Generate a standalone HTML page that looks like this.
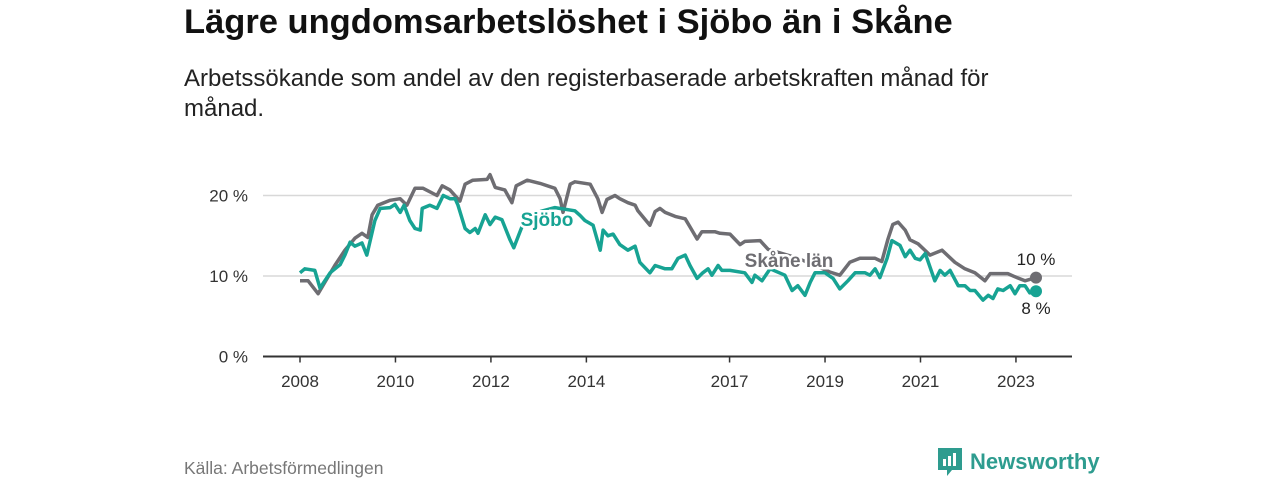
<!DOCTYPE html>
<html><head><meta charset="utf-8"><style>
body{margin:0;width:1280px;height:480px;background:#fff;font-family:"Liberation Sans","DejaVu Sans",sans-serif;overflow:hidden;position:relative}
#title{position:absolute;left:184px;top:3px;font-size:34.5px;font-weight:bold;color:#111;margin:0}
#sub{position:absolute;left:184px;top:64px;font-size:24px;color:#222;line-height:30px;width:860px}
#src{position:absolute;left:184px;top:458px;font-size:17.5px;color:#777}
#logo{position:absolute;left:938px;top:448px;display:flex;align-items:center;gap:8px;color:#2e9c8f;font-size:22px;font-weight:bold}
</style></head><body>
<h1 id="title">Lägre ungdomsarbetslöshet i Sjöbo än i Skåne</h1>
<div id="sub">Arbetssökande som andel av den registerbaserade arbetskraften månad för månad.</div>
<svg id="chart" width="1280" height="480" style="position:absolute;left:0;top:0"></svg>
<div id="src">Källa: Arbetsförmedlingen</div>
<div id="logo"><svg width="24" height="28" viewBox="0 0 24 28"><path d="M0 0H24V22H14L9 28V22H0Z" fill="#2e9c8f"/><rect x="5" y="11" width="3" height="7" fill="#fff"/><rect x="10" y="8" width="3" height="10" fill="#fff"/><rect x="15" y="5" width="3" height="13" fill="#fff"/></svg><span>Newsworthy</span></div>
<script>
const yTicks=[0,10,20];
const xTickYears=[2008,2010,2012,2014,2017,2019,2021,2023];
const skaneT=[2008.00,2008.17,2008.38,2008.52,2008.73,2008.94,2009.15,2009.30,2009.42,2009.51,2009.63,2009.89,2010.10,2010.24,2010.41,2010.58,2010.87,2010.98,2011.14,2011.35,2011.46,2011.62,2011.92,2011.98,2012.09,2012.29,2012.44,2012.53,2012.76,2013.03,2013.34,2013.45,2013.51,2013.66,2013.76,2014.08,2014.24,2014.33,2014.43,2014.60,2014.70,2014.87,2015.02,2015.08,2015.33,2015.44,2015.54,2015.65,2015.86,2016.07,2016.17,2016.32,2016.42,2016.69,2016.80,2017.01,2017.22,2017.32,2017.64,2017.81,2018.27,2018.69,2019.10,2019.31,2019.52,2019.73,2020.05,2020.19,2020.32,2020.42,2020.53,2020.68,2020.78,2020.95,2021.20,2021.45,2021.72,2021.93,2022.14,2022.35,2022.46,2022.83,2022.98,2023.19,2023.42];
const skaneV=[9.4,9.4,7.8,9.2,11.3,13.2,14.7,15.3,14.8,17.6,18.8,19.4,19.6,18.8,20.9,20.9,20.0,21.2,20.7,19.3,21.4,21.9,22.0,22.6,21.0,20.7,19.1,21.2,21.9,21.5,20.9,19.6,17.9,21.4,21.7,21.4,19.6,17.9,19.5,20.0,19.6,19.1,18.8,18.1,16.3,18.0,18.4,17.9,17.4,17.1,16.1,14.6,15.5,15.5,15.3,15.2,13.9,14.3,14.4,13.3,12.5,11.6,10.5,10.1,11.7,12.2,12.2,11.8,14.6,16.4,16.7,15.7,14.5,14.0,12.6,13.2,11.7,10.9,10.4,9.4,10.3,10.3,9.9,9.4,9.8];
const sjoboT=[2008.00,2008.10,2008.31,2008.42,2008.63,2008.84,2008.94,2009.05,2009.15,2009.30,2009.40,2009.57,2009.68,2009.89,2009.99,2010.10,2010.18,2010.30,2010.41,2010.52,2010.56,2010.72,2010.87,2011.00,2011.14,2011.25,2011.31,2011.46,2011.56,2011.67,2011.73,2011.88,2011.98,2012.09,2012.23,2012.40,2012.48,2012.61,2012.71,2013.03,2013.34,2013.76,2013.87,2013.97,2014.14,2014.29,2014.35,2014.45,2014.56,2014.70,2014.87,2015.02,2015.12,2015.33,2015.44,2015.65,2015.79,2015.92,2016.07,2016.17,2016.32,2016.44,2016.55,2016.63,2016.76,2016.84,2017.01,2017.32,2017.47,2017.53,2017.68,2017.85,2018.16,2018.31,2018.43,2018.58,2018.69,2018.79,2019.00,2019.17,2019.31,2019.48,2019.63,2019.84,2019.94,2020.05,2020.15,2020.30,2020.40,2020.57,2020.68,2020.78,2020.89,2020.99,2021.10,2021.30,2021.41,2021.51,2021.62,2021.79,2021.93,2022.04,2022.14,2022.31,2022.42,2022.52,2022.62,2022.73,2022.88,2022.98,2023.08,2023.19,2023.29,2023.42];
const sjoboV=[10.4,10.9,10.7,8.5,10.4,11.4,12.6,14.2,13.7,14.1,12.6,16.9,18.4,18.5,18.9,17.9,18.8,16.9,15.9,15.7,18.4,18.8,18.4,20.0,19.6,19.6,18.8,15.9,15.4,15.9,15.3,17.6,16.4,17.3,17.0,14.5,13.5,15.5,17.0,18.0,18.5,18.1,17.5,16.9,16.3,13.2,15.7,15.0,15.2,13.9,13.2,13.7,11.7,10.4,11.3,10.9,10.9,12.2,12.6,11.3,9.7,10.4,10.9,10.1,11.3,10.7,10.7,10.4,9.2,10.1,9.4,10.9,10.1,8.2,8.8,7.6,9.2,10.4,10.4,9.7,8.4,9.4,10.4,10.4,10.1,10.9,9.8,12.2,14.4,13.8,12.4,13.2,12.2,12.0,12.8,9.4,10.7,10.1,10.7,8.8,8.8,8.2,8.2,7.0,7.6,7.2,8.4,8.2,8.8,7.8,8.8,8.8,7.9,8.1];
const endLabels=["10 %","8 %"];

const NS="http://www.w3.org/2000/svg";
const svg=document.getElementById('chart');
const xS=t=>300+(t-2008)*47.73;
const yS=v=>356.5-v*8.05;
function mk(tag,attrs,parent){const e=document.createElementNS(NS,tag);for(const k in attrs)e.setAttribute(k,attrs[k]);(parent||svg).appendChild(e);return e;}
yTicks.forEach(v=>{
  if(v>0){const g=mk('line',{x1:263,x2:1072,y1:yS(v),y2:yS(v),stroke:'#d8d8d8','stroke-width':1.5});
  
  }
  const t=mk('text',{x:248,y:yS(v)+6,'text-anchor':'end','font-size':17,fill:'#333'});
  t.textContent=v+' %';
  
  
});
const ax=mk('line',{x1:263,x2:1072,y1:yS(0),y2:yS(0),stroke:'#333','stroke-width':2});


xTickYears.forEach(yr=>{
  mk('line',{x1:xS(yr),x2:xS(yr),y1:yS(0),y2:yS(0)+6,stroke:'#333','stroke-width':1.5});
  const t=mk('text',{x:xS(yr),y:387,'text-anchor':'middle','font-size':17,fill:'#333'});
  t.textContent=yr;
  
  
});
function line(T,V,col,name){
  const d=T.map((t,i)=>(i?'L':'M')+xS(t).toFixed(1)+' '+yS(V[i]).toFixed(1)).join(' ');
  const p=mk('path',{d:d,fill:'none',stroke:col,'stroke-width':3.5,'stroke-linejoin':'round'});
  
  
  const c=mk('circle',{cx:xS(T[T.length-1]),cy:yS(V[V.length-1]),r:6,fill:col});
  
  
}
line(skaneT,skaneV,'#6e6d72','skane-line');
line(sjoboT,sjoboV,'#17a393','sjobo-line');
function lab(txt,x,y,col,name,w){
  const t=mk('text',{x:x,y:y,'font-size':w?19:17,'font-weight':w?'bold':'normal',fill:col,stroke:'#fff','stroke-width':w?5:4,'paint-order':'stroke','text-anchor':'middle'});
  t.textContent=txt;
  
  
}
lab('Sjöbo',547,226,'#17a393','sjobo-label',1);
lab('Skåne län',789,267,'#6e6d72','skane-label',1);
lab(endLabels[0],1036,265,'#222','skane-end-value',0);
lab(endLabels[1],1036,314,'#222','sjobo-end-value',0);
</script>
</body></html>
